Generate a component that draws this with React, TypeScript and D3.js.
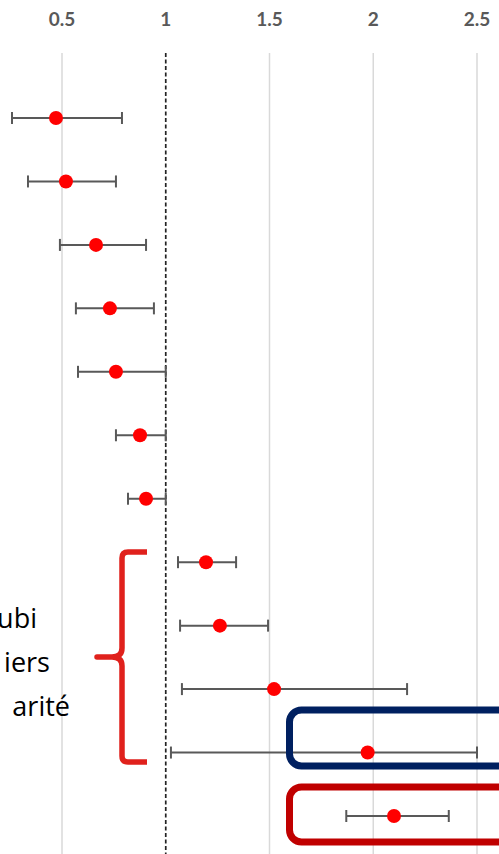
import React from "react";
import * as d3 from "d3";

const rows = ["r1", "r2", "r3", "r4", "r5", "r6", "r7", "r8", "r9", "r10", "r11", "r12"];
const estimates = [0.471, 0.519, 0.664, 0.731, 0.76, 0.876, 0.905, 1.194, 1.261, 1.522, 1.973, 2.1];
const lower = [0.259, 0.336, 0.49, 0.567, 0.577, 0.76, 0.818, 1.059, 1.069, 1.078, 1.025, 1.87];
const upper = [0.789, 0.76, 0.905, 0.943, 1.0, 1.0, 1.0, 1.339, 1.493, 2.163, 2.5, 2.364];
const ticks = [0.5, 1, 1.5, 2, 2.5];
const tickLabels = ["0.5", "1", "1.5", "2", "2.5"];
const sideLines = ["ubi", "iers", "arité"];

export default function App() {
  const W = 499, H = 854;
  const x = d3.scaleLinear().domain([0.5, 2.5]).range([62, 477]);
  const y = d3.scalePoint<string>().domain(rows).range([118, 816]);
  const gridTop = 53;
  const cap = 6;

  const brace = "M147,552 H128 Q122,552 122,558 V648 Q122,657 112,657 H97 H112 Q122,657 122,666 V756 Q122,762 128,762 H147";

  const sideX = [37, 50, 70];
  const sideY = [628, 672, 716];

  return (
    <svg width={W} height={H} style={{ position: "absolute", left: 0, top: 0, background: "#fff" }}>
      <rect x={0} y={0} width={W} height={H} fill="#fff" />
      {ticks.map((t, i) =>
        t === 1 ? null : (
          <line key={"g" + i} x1={x(t)} x2={x(t)} y1={gridTop} y2={H} stroke="#d9d9d9" strokeWidth={1.5} />
        )
      )}
      <line x1={x(1)} x2={x(1)} y1={gridTop} y2={H} stroke="#222" strokeWidth={1.7} strokeDasharray="4,2.5" />
      {ticks.map((t, i) => (
        <text key={"t" + i} x={x(t)} y={26} textAnchor="middle" fontFamily="Lato, 'Open Sans', sans-serif" fontWeight="bold" fontSize={19} fill="#595959">
          {tickLabels[i]}
        </text>
      ))}
      {rows.map((r, i) => {
        const cy = y(r)!;
        return (
          <g key={r}>
            <line x1={x(lower[i])} x2={x(upper[i])} y1={cy} y2={cy} stroke="#595959" strokeWidth={2} />
            <line x1={x(lower[i])} x2={x(lower[i])} y1={cy - cap} y2={cy + cap} stroke="#595959" strokeWidth={2} />
            <line x1={x(upper[i])} x2={x(upper[i])} y1={cy - cap} y2={cy + cap} stroke="#595959" strokeWidth={2} />
            <circle cx={x(estimates[i])} cy={cy} r={7} fill="#ff0000" />
          </g>
        );
      })}
      <path d={brace} fill="none" stroke="#e0211c" strokeWidth={5.5} strokeLinejoin="round" />
      <rect x={289.5} y={710} width={260} height={56} rx={12} fill="none" stroke="#002060" strokeWidth={7} />
      <rect x={289.5} y={787} width={260} height={55} rx={12} fill="none" stroke="#c00000" strokeWidth={7} />
      {sideLines.map((s, i) => (
        <text key={"s" + i} x={sideX[i]} y={sideY[i]} textAnchor="end" fontFamily="'Open Sans', Lato, sans-serif" fontSize={27} fill="#000">
          {s}
        </text>
      ))}
    </svg>
  );
}
